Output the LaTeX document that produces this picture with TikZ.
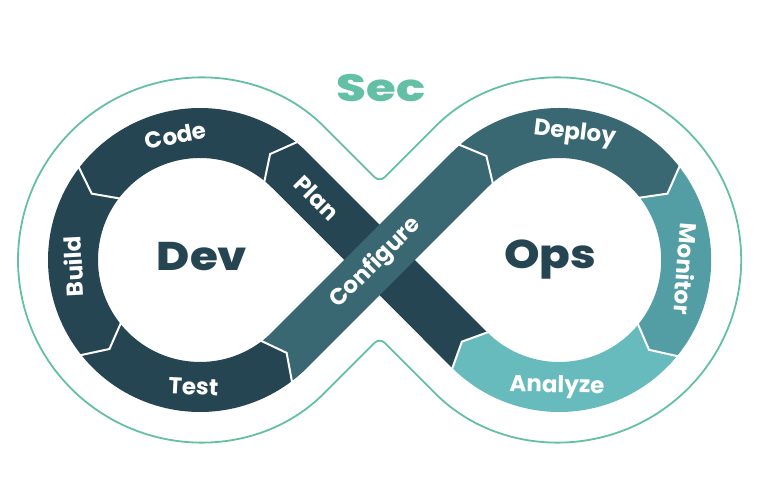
\documentclass[tikz,border=0pt]{standalone}
\usepackage{fontspec}
\setmainfont{Poppins}
\newfontfamily\heavyfont{Poppins ExtraBold}
\usetikzlibrary{calc}

\definecolor{devdark}{RGB}{37,69,83}
\definecolor{opsmid}{RGB}{57,104,114}
\definecolor{monteal}{RGB}{83,157,165}
\definecolor{anateal}{RGB}{104,187,189}
\definecolor{secgreen}{RGB}{99,191,166}

\begin{document}
\begin{tikzpicture}[x=1pt,y=1pt,
    seg label/.style={text=white,font=\bfseries\fontsize{23}{23}\selectfont,inner sep=0pt},
    big word/.style={text=devdark,font=\heavyfont\fontsize{40}{40}\selectfont,inner sep=0pt,xscale=1.13},
    chevron/.style={draw=white,line width=2pt,line join=miter}]

    \useasboundingbox (0,0) rectangle (761,492);

    \coordinate (L) at (200,232);
    \coordinate (R) at (559.2,232);
    \coordinate (ntop) at (379.6,309.8);
    \coordinate (nbot) at (379.6,154.2);

    % outer line round the loop
    \draw[secgreen,line width=1.8pt,rounded corners=7pt]
        ($(L)+(45:182)$) arc[start angle=45,end angle=315,radius=182]
        -- (nbot) -- ($(R)+(225:182)$) arc[start angle=225,end angle=495,radius=182]
        -- (ntop) -- cycle;

    % plan band, under configure
    \fill[devdark] ($(R)+(225.5:152)$) arc[start angle=225.5,end angle=225,radius=152]
        -- ($(L)+(45:102)$) arc[start angle=45,end angle=50.5,radius=102]
        -- ($(L)+(56.5:127)$) -- ($(L)+(50.5:152)$) arc[start angle=50.5,end angle=45,radius=152]
        -- ($(R)+(225:102)$) arc[start angle=225,end angle=225.5,radius=102]
        -- ($(R)+(220:127)$) -- cycle;

    % configure band
    \fill[opsmid] ($(L)+(307:152)$) arc[start angle=307,end angle=315,radius=152]
        -- ($(R)+(135:102)$) arc[start angle=135,end angle=131,radius=102]
        -- ($(R)+(125:127)$) -- ($(R)+(131:152)$) arc[start angle=131,end angle=135,radius=152]
        -- ($(L)+(315:102)$) arc[start angle=315,end angle=307,radius=102]
        -- ($(L)+(313:127)$) -- cycle;

    % dev ring
    \fill[devdark] ($(L)+(50.5:152)$) arc[start angle=50.5,end angle=142.5,radius=152]
        -- ($(L)+(148.5:127)$) -- ($(L)+(142.5:102)$) arc[start angle=142.5,end angle=50.5,radius=102]
        -- ($(L)+(56.5:127)$) -- cycle;
    \fill[devdark] ($(L)+(142.5:152)$) arc[start angle=142.5,end angle=218.5,radius=152]
        -- ($(L)+(224.5:127)$) -- ($(L)+(218.5:102)$) arc[start angle=218.5,end angle=142.5,radius=102]
        -- ($(L)+(148.5:127)$) -- cycle;
    \fill[devdark] ($(L)+(218.5:152)$) arc[start angle=218.5,end angle=307,radius=152]
        -- ($(L)+(313:127)$) -- ($(L)+(307:102)$) arc[start angle=307,end angle=218.5,radius=102]
        -- ($(L)+(224.5:127)$) -- cycle;

    % ops ring
    \fill[opsmid] ($(R)+(131:152)$) arc[start angle=131,end angle=38,radius=152]
        -- ($(R)+(31.5:127)$) -- ($(R)+(38:102)$) arc[start angle=38,end angle=131,radius=102]
        -- ($(R)+(125:127)$) -- cycle;
    \fill[monteal] ($(R)+(38:152)$) arc[start angle=38,end angle=-39,radius=152]
        -- ($(R)+(-45:127)$) -- ($(R)+(-39:102)$) arc[start angle=-39,end angle=38,radius=102]
        -- ($(R)+(31.5:127)$) -- cycle;
    \fill[anateal] ($(R)+(-39:152)$) arc[start angle=-39,end angle=-134.5,radius=152]
        -- ($(R)+(-140:127)$) -- ($(R)+(-134.5:102)$) arc[start angle=-134.5,end angle=-39,radius=102]
        -- ($(R)+(-45:127)$) -- cycle;

    % white joints
    \foreach \a/\b in {50.5/56.5,142.5/148.5,218.5/224.5,307/313}
        \draw[chevron] ($(L)+(\a:153)$) -- ($(L)+(\b:127)$) -- ($(L)+(\a:101)$);
    \foreach \a/\b in {131/125,38/31.5,-39/-45,225.5/220}
        \draw[chevron] ($(R)+(\a:153)$) -- ($(R)+(\b:127)$) -- ($(R)+(\a:101)$);

    \node[seg label,rotate=11] (code) at ($(L)+(101:127)$) {Code};
    \node[seg label,rotate=93] (build) at ($(L)+(183:127)$) {Build};
    \node[seg label,rotate=-3] (test) at ($(L)+(267:127)$) {Test};
    \node[seg label,rotate=-45] (plan) at (317,294) {Plan};
    \node[seg label,rotate=45] (configure) at (376,229) {Configure};
    \node[seg label,rotate=-7] (deploy) at ($(R)+(83:127)$) {Deploy};
    \node[seg label,rotate=-94] (monitor) at ($(R)+(-4:127)$) {Monitor};
    \node[seg label,rotate=-1] (analyze) at ($(R)+(269:127)$) {Analyze};

    \node[big word] (dev) at (202,235) {Dev};
    \node[big word] (ops) at (550,232) {Ops};
    \node[big word,text=secgreen,font=\heavyfont\fontsize{38}{38}\selectfont,xscale=1.12] (sec) at (381,404) {Sec};
\end{tikzpicture}
\end{document}
